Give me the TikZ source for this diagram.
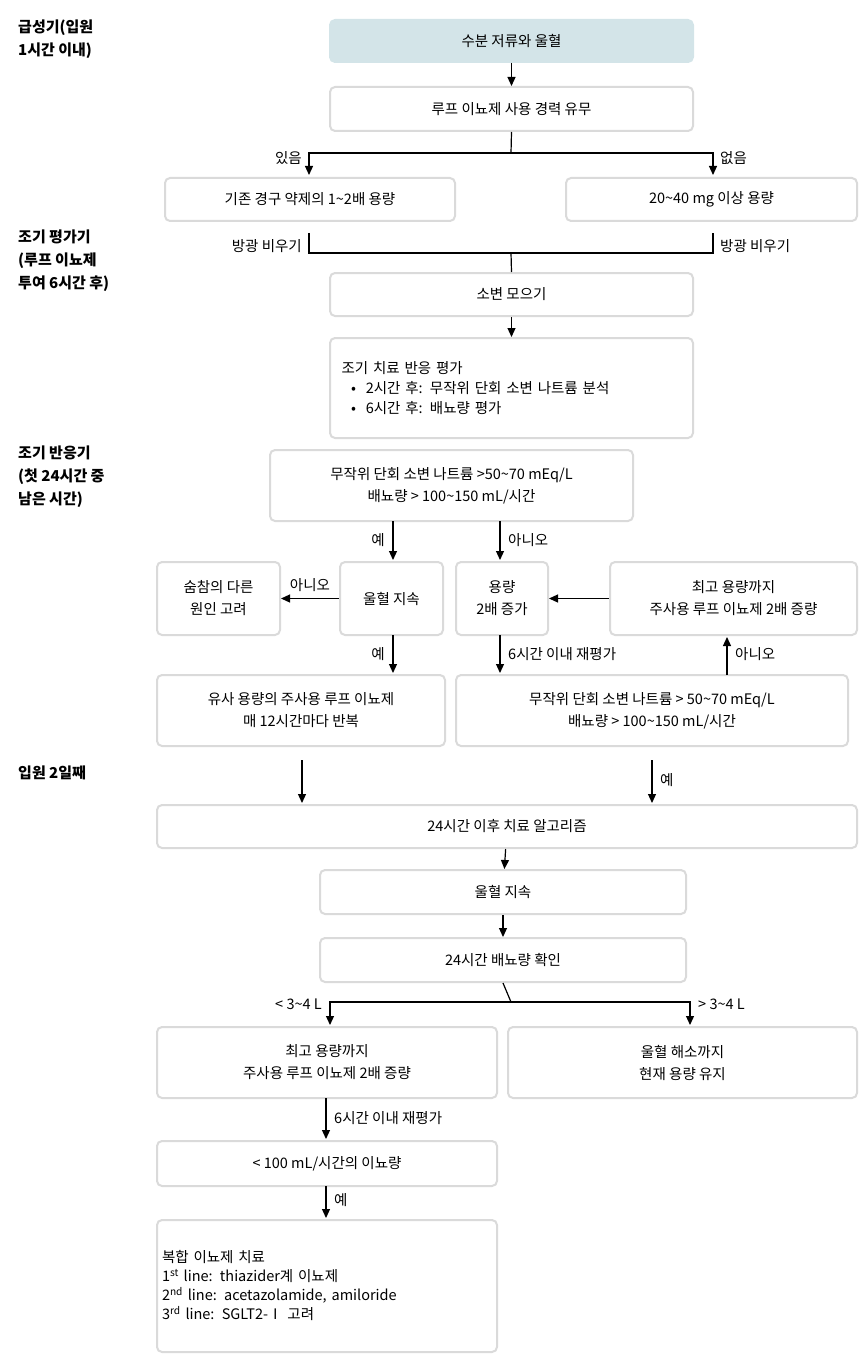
\documentclass[tikz,border=0pt]{standalone}
\usepackage{fontspec}
\setmainfont{Noto Sans CJK KR}
\usetikzlibrary{arrows.meta}
\definecolor{bd}{HTML}{DADADA}
\definecolor{tl}{HTML}{D3E4E8}
\newcommand{\bx}[7][]{\node[box,#1,minimum width={(#5-#3)*1pt},minimum height={(#6-#4)*1pt}] (#2) at ({(#3+#5)/2},{(#4+#6)/2}) {#7};}
\begin{document}
\begin{tikzpicture}[x=1pt,y=-1pt,
 box/.style={draw=bd,line width=2pt,rounded corners=5pt,fill=white,align=center,inner sep=2pt,font=\fontsize{14.5}{22}\selectfont},
 lb/.style={font=\fontsize{14.5}{22}\selectfont,inner sep=2pt},
 hd/.style={font=\fontsize{15}{23}\selectfont\bfseries,align=left,anchor=north west,inner sep=0pt},
 ar/.style={-{Triangle[length=9pt,width=8pt]},line width=1.2pt},
 ln/.style={line width=1.2pt}]
\useasboundingbox (0,0) rectangle (862,1364);
\node[hd] (h1) at (18,20) {급성기(입원\\1시간 이내)};
\node[hd] (h2) at (18,230) {조기 평가기\\(루프 이뇨제\\투여 6시간 후)};
\node[hd] (h3) at (18,446) {조기 반응기\\(첫 24시간 중\\남은 시간)};
\node[hd] (h4) at (18,766) {입원 2일째};
\bx[fill=tl,draw=tl]{b1}{330}{20}{693}{62}{수분 저류와 울혈}
\bx{b2}{330}{87}{693}{131}{루프 이뇨제 사용 경력 유무}
\bx{b3}{165}{178}{455}{221}{기존 경구 약제의 1\textasciitilde 2배 용량}
\bx{b4}{566}{178}{857}{221}{20\textasciitilde 40 mg 이상 용량}
\bx{b5}{330}{273}{693}{316}{소변 모으기}
\bx[align=left,text width=340pt]{b6}{330}{338}{693}{438}{조기 치료 반응 평가\\[-2pt]
\ \ •\ \ 2시간 후: 무작위 단회 소변 나트륨 분석\\[-2pt] \ \ •\ \ 6시간 후: 배뇨량 평가}
\bx{b7}{270}{450}{633}{521}{무작위 단회 소변 나트륨 >50\textasciitilde 70 mEq/L\\배뇨량 > 100\textasciitilde 150 mL/시간}
\bx{b8}{340}{562}{443}{635}{울혈 지속}
\bx{b9}{157}{562}{280}{635}{숨참의 다른\\원인 고려}
\bx{b10}{456}{562}{548}{635}{용량\\2배 증가}
\bx{b11}{610}{562}{857}{635}{최고 용량까지\\주사용 루프 이뇨제 2배 증량}
\bx{b12}{157}{675}{445}{746}{유사 용량의 주사용 루프 이뇨제\\매 12시간마다 반복}
\bx{b13}{456}{675}{848}{746}{무작위 단회 소변 나트륨 > 50\textasciitilde 70 mEq/L\\배뇨량 > 100\textasciitilde 150 mL/시간}
\bx{b14}{157}{805}{857}{848}{24시간 이후 치료 알고리즘}
\bx{b15}{320}{870}{686}{914}{울혈 지속}
\bx{b16}{320}{938}{686}{982}{24시간 배뇨량 확인}
\bx{b17}{157}{1027}{497}{1098}{최고 용량까지\\주사용 루프 이뇨제 2배 증량}
\bx{b18}{508}{1027}{857}{1098}{울혈 해소까지\\현재 용량 유지}
\bx{b19}{157}{1141}{497}{1186}{< 100 mL/시간의 이뇨량}
\bx[align=left,text width=330pt]{b20}{157}{1220}{497}{1352}{복합 이뇨제 치료\\[-3pt]
1\textsuperscript{st} line: thiazider계 이뇨제\\[-3pt]
2\textsuperscript{nd} line: acetazolamide, amiloride\\[-3pt]
3\textsuperscript{rd} line: SGLT2-Ⅰ 고려}
% connectors
\draw[ar] (b1) -- (b2);
\coordinate (s1) at (511,153);
\draw[ln] (b2.south) -- (s1);
\draw[ar] (s1) -| (309,175);
\draw[ar] (s1) -| (713,175);
\node[lb,anchor=east] (l1) at (304,158) {있음};
\node[lb,anchor=west] (l2) at (718,158) {없음};
\coordinate (m1) at (511,253);
\draw[ln] (309,233) |- (m1) -| (713,233);
\draw[ln] (m1) -- (b5.north);
\node[lb,anchor=east] (l3) at (304,246) {방광 비우기};
\node[lb,anchor=west] (l4) at (718,246) {방광 비우기};
\draw[ar] (b5) -- (b6);
\draw[ar] (393,521) -- (393,560);
\node[lb,anchor=east] (l5) at (387,540) {예};
\draw[ar] (500,521) -- (500,560);
\node[lb,anchor=west] (l6) at (506,540) {아니오};
\draw[ar] (b8) -- (b9);
\node[lb,anchor=south] (l7) at (310,594) {아니오};
\draw[ar] (b11) -- (b10);
\draw[ar] (393,635) -- (393,673);
\node[lb,anchor=east] (l8) at (387,654) {예};
\draw[ar] (500,635) -- (500,673);
\node[lb,anchor=west] (l9) at (506,654) {6시간 이내 재평가};
\draw[ar] (727,675) -- (727,637);
\node[lb,anchor=west] (l10) at (733,654) {아니오};
\draw[ar] (302,760) -- (302,803);
\draw[ar] (652,760) -- (652,803);
\node[lb,anchor=west] (l11) at (658,780) {예};
\draw[ar] (b14) -- (b15);
\draw[ar] (b15) -- (b16);
\coordinate (s2) at (511,1002);
\draw[ln] (b16.south) -- (s2);
\draw[ar] (s2) -| (330,1025);
\draw[ar] (s2) -| (690,1025);
\node[lb,anchor=east] (l12) at (324,1004) {< 3\textasciitilde 4 L};
\node[lb,anchor=west] (l13) at (696,1004) {> 3\textasciitilde 4 L};
\draw[ar] (326,1098) -- (326,1139);
\node[lb,anchor=west] (l14) at (332,1118) {6시간 이내 재평가};
\draw[ar] (326,1186) -- (326,1218);
\node[lb,anchor=west] (l15) at (332,1200) {예};
\end{tikzpicture}
\end{document}
